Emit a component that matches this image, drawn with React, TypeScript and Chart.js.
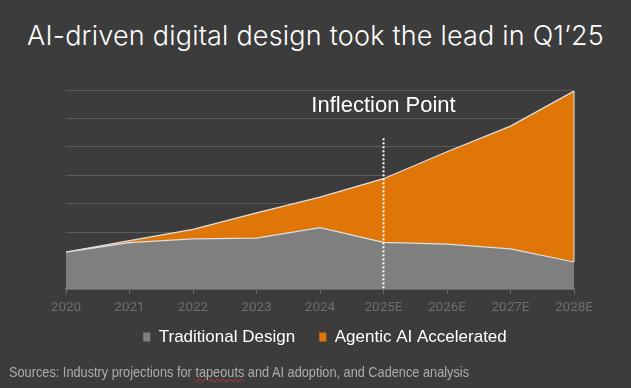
import React, { useEffect, useRef } from 'react';
import { Chart, registerables } from 'chart.js';

Chart.register(...registerables);

const YEARS = ['2020', '2021', '2022', '2023', '2024', '2025E', '2026E', '2027E', '2028E'];
const TRADITIONAL = [13, 16.3, 17.6, 17.9, 21.6, 16.4, 15.8, 14.1, 9.5];
const AGENTIC = [0, 0.7, 3.4, 8.9, 10.7, 22.4, 32.5, 43.2, 60.1];
const Y_MAX = 70;
const Y_STEP = 10;
const INFLECTION_INDEX = 5;
const INFLECTION_LINE_TOP = 53;
const INFLECTION_LABEL_Y = 64.5;
const INFLECTION_LABEL = 'Inflection Point';
const SERIES_NAMES = ['Traditional Design', 'Agentic AI Accelerated'];
const TITLE = 'AI-driven digital design took the lead in Q1\u201925';

const BG = '#3c3c3c';
const ORANGE = '#e07608';
const GRAY = '#7f7f7f';
const LEGEND_SHIFT = 5;

const annotationPlugin = {
  id: 'inflection',
  afterLayout(chart: any) {
    if (chart.legend) {
      chart.legend.left += LEGEND_SHIFT;
      chart.legend.right += LEGEND_SHIFT;
    }
  },
  afterDatasetsDraw(chart: any) {
    const { ctx, scales } = chart;
    const x = scales.x.getPixelForValue(INFLECTION_INDEX);
    const yTop = scales.y.getPixelForValue(INFLECTION_LINE_TOP);
    const yBottom = scales.y.getPixelForValue(0);
    ctx.save();
    ctx.strokeStyle = '#ffffff';
    ctx.lineWidth = 2;
    ctx.setLineDash([2, 2]);
    ctx.beginPath();
    ctx.moveTo(x, yTop);
    ctx.lineTo(x, yBottom);
    ctx.stroke();
    ctx.setLineDash([]);
    const last = YEARS.length - 1;
    const xr = scales.x.getPixelForValue(last);
    ctx.strokeStyle = '#e6e6e6';
    ctx.lineWidth = 1;
    ctx.beginPath();
    ctx.moveTo(xr, scales.y.getPixelForValue(TRADITIONAL[last] + AGENTIC[last]));
    ctx.lineTo(xr, scales.y.getPixelForValue(TRADITIONAL[last]));
    ctx.stroke();
    ctx.fillStyle = '#ffffff';
    ctx.font = '22px "Liberation Sans", Arial, sans-serif';
    ctx.textAlign = 'center';
    ctx.textBaseline = 'middle';
    ctx.fillText(INFLECTION_LABEL, x, scales.y.getPixelForValue(INFLECTION_LABEL_Y));
    ctx.restore();
  },
};

export default function App() {
  const ref = useRef<HTMLCanvasElement>(null);
  useEffect(() => {
    document.body.style.margin = '0';
    const chart = new Chart(ref.current!, {
      type: 'line',
      data: {
        labels: YEARS,
        datasets: [
          {
            label: SERIES_NAMES[0],
            data: TRADITIONAL,
            backgroundColor: GRAY,
            borderColor: '#e0e0e0',
            borderWidth: 1.2,
            fill: 'origin',
            pointRadius: 0,
            tension: 0,
          },
          {
            label: SERIES_NAMES[1],
            data: AGENTIC,
            backgroundColor: ORANGE,
            borderColor: '#e0e0e0',
            borderWidth: 1.2,
            fill: '-1',
            pointRadius: 0,
            tension: 0,
          },
        ],
      },
      options: {
        responsive: false,
        animation: false,
        layout: { padding: { top: 90, left: 66, right: 57, bottom: 32.5 } },
        plugins: {
          title: { display: false },
          tooltip: { enabled: false },
          legend: {
            position: 'bottom',
            labels: {
              color: '#ffffff',
              font: { family: '"Liberation Sans", Arial, sans-serif', size: 17 },
              boxWidth: 7,
              boxHeight: 9,
              padding: 10,
              generateLabels: (c: any) =>
                Chart.defaults.plugins.legend.labels
                  .generateLabels(c)
                  .map((l: any, i: number) => ({
                    ...l,
                    text: i === 0 ? l.text + '   ' : l.text,
                    lineWidth: 0,
                    strokeStyle: 'rgba(0,0,0,0)',
                  })),
            },
          },
        },
        scales: {
          x: {
            offset: false,
            grid: { drawOnChartArea: false, drawTicks: true, tickLength: 5, color: '#6a6a6a' },
            border: { display: true, color: '#6a6a6a', width: 2 },
            ticks: {
              color: '#6e6e6e',
              font: { family: 'Roboto, sans-serif', size: 13.5 },
              padding: 6,
              maxRotation: 0,
              autoSkip: false,
            },
            afterFit: (s: any) => {
              s.height = 29.5;
            },
          },
          y: {
            stacked: true,
            min: 0,
            max: Y_MAX,
            ticks: { display: false, stepSize: Y_STEP },
            grid: { color: '#5a5a5a', lineWidth: 1, drawTicks: false },
            border: { display: false },
            afterFit: (s: any) => {
              s.width = 0;
            },
          },
        },
      },
      plugins: [annotationPlugin],
    });
    return () => chart.destroy();
  }, []);

  return (
    <div style={{ position: 'relative', width: 631, height: 388, background: BG, overflow: 'hidden' }}>
      <div
        style={{
          position: 'absolute',
          left: 0,
          width: 631,
          top: 19.5,
          textAlign: 'center',
          color: '#ffffff',
          fontFamily: 'Inter, sans-serif',
          fontWeight: 300,
          fontSize: 27,
          letterSpacing: '0.2px',
          lineHeight: '32px',
          whiteSpace: 'nowrap',
        }}
      >
        {TITLE}
      </div>
      <canvas ref={ref} width={631} height={388} style={{ position: 'absolute', left: 0, top: 0 }} />
      <div
        style={{
          position: 'absolute',
          left: 9,
          top: 363,
          color: '#adadad',
          fontFamily: '"Liberation Sans", Arial, sans-serif',
          fontSize: 15,
          lineHeight: '18px',
          whiteSpace: 'nowrap',
          transform: 'scaleX(0.85)',
          transformOrigin: 'left center',
        }}
      >
        Sources: Industry projections for{' '}
        <span style={{ textDecoration: 'underline wavy #d03030', textDecorationThickness: 1 }}>tapeouts</span> and AI
        adoption, and Cadence analysis
      </div>
    </div>
  );
}
